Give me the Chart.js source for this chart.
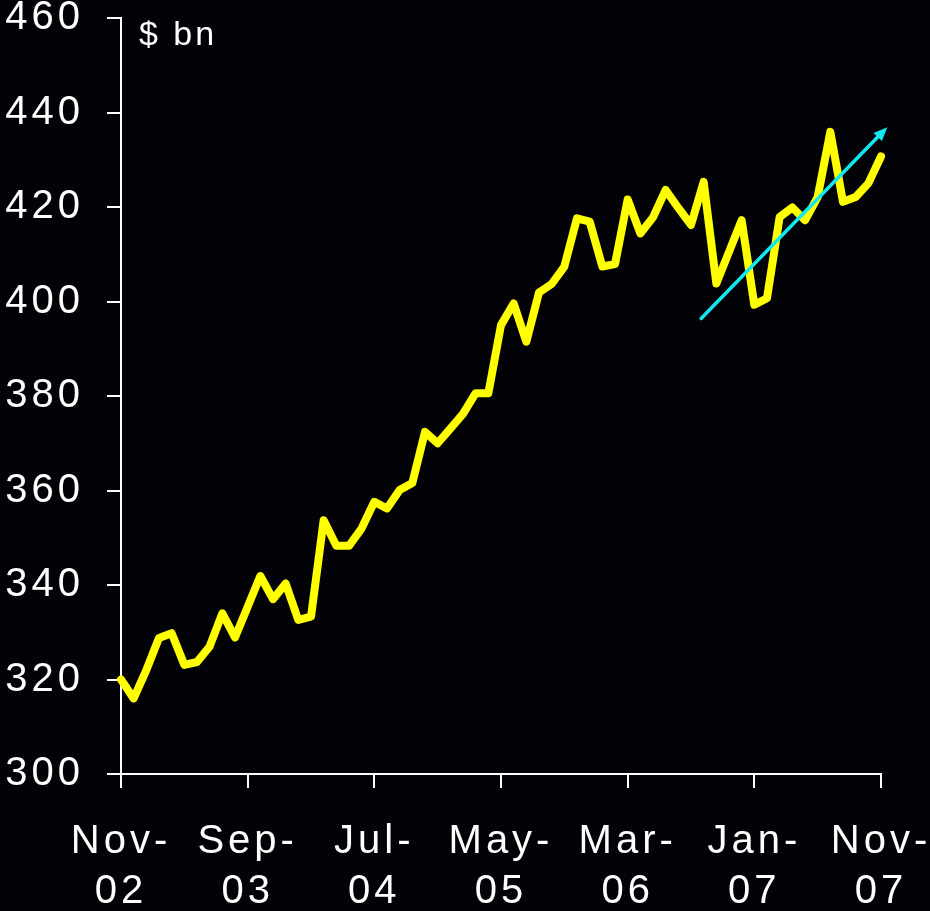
<!DOCTYPE html>
<html>
<head>
<meta charset="utf-8">
<script src="https://cdn.jsdelivr.net/npm/chart.js@4"></script>
<style>
  html, body { margin: 0; padding: 0; background: #020207; }
  #wrap { width: 930px; height: 911px; position: relative; }
</style>
</head>
<body>
<div id="wrap"><canvas id="reserveChart"></canvas></div>
<script>
// Monthly values, Nov-02 .. Nov-07 ($ bn)
const months = [
    'Nov-02', 'Dec-02', 'Jan-03', 'Feb-03', 'Mar-03', 'Apr-03', 'May-03', 'Jun-03', 'Jul-03', 'Aug-03', 'Sep-03', 'Oct-03',
    'Nov-03', 'Dec-03', 'Jan-04', 'Feb-04', 'Mar-04', 'Apr-04', 'May-04', 'Jun-04', 'Jul-04', 'Aug-04', 'Sep-04', 'Oct-04',
    'Nov-04', 'Dec-04', 'Jan-05', 'Feb-05', 'Mar-05', 'Apr-05', 'May-05', 'Jun-05', 'Jul-05', 'Aug-05', 'Sep-05', 'Oct-05',
    'Nov-05', 'Dec-05', 'Jan-06', 'Feb-06', 'Mar-06', 'Apr-06', 'May-06', 'Jun-06', 'Jul-06', 'Aug-06', 'Sep-06', 'Oct-06',
    'Nov-06', 'Dec-06', 'Jan-07', 'Feb-07', 'Mar-07', 'Apr-07', 'May-07', 'Jun-07', 'Jul-07', 'Aug-07', 'Sep-07', 'Oct-07',
    'Nov-07',
];
const values = [
    320, 316, 322, 328.8, 329.8, 323.1, 323.7, 327, 334, 328.9, 335.4, 341.9,
    337, 340.3, 332.6, 333.3, 353.7, 348.3, 348.3, 352, 357.6, 356.2, 360.1, 361.6,
    372.4, 370, 373.1, 376.2, 380.6, 380.6, 395, 399.6, 391.5, 401.9, 403.7, 407.4,
    417.6, 416.9, 407.4, 407.9, 421.6, 414.4, 417.8, 423.6, 419.8, 416.2, 425.3, 403.8,
    410.5, 417.2, 399.3, 400.7, 417.9, 419.9, 417.2, 422.1, 435.9, 421.1, 422.1, 425,
    430.7,
];
// x-axis tick labels every 10 months
const tickLabels = [['Nov-', '02'], ['Sep-', '03'], ['Jul-', '04'], ['May-', '05'], ['Mar-', '06'], ['Jan-', '07'], ['Nov-', '07']];
// trend arrow: [month index, value] start and end
const arrowFrom = [45.8, 396.4];
const arrowTo = [60.5, 436.9];
const unitLabel = '$ bn';

const bg = '#020207';

function setSpacing(chart) {
    chart.ctx.letterSpacing = '4px';
}

const extras = {
    id: 'extras',
    beforeUpdate: setSpacing,
    beforeLayout: setSpacing,
    beforeDraw(chart) {
        const c = chart.ctx;
        c.save();
        c.fillStyle = bg;
        c.fillRect(0, 0, chart.width, chart.height);
        c.restore();
        setSpacing(chart);
    },
    afterDatasetsDraw(chart) {
        const c = chart.ctx;
        const xs = chart.scales.x;
        const ys = chart.scales.y;
        const x1 = xs.getPixelForValue(arrowFrom[0]);
        const y1 = ys.getPixelForValue(arrowFrom[1]);
        const x2 = xs.getPixelForValue(arrowTo[0]);
        const y2 = ys.getPixelForValue(arrowTo[1]);
        const ang = Math.atan2(y2 - y1, x2 - x1);
        const head = 15;
        c.save();
        c.strokeStyle = '#10E8F0';
        c.fillStyle = '#10E8F0';
        c.lineWidth = 3.5;
        c.lineCap = 'round';
        c.beginPath();
        c.moveTo(x1, y1);
        c.lineTo(x2 - Math.cos(ang) * head * 0.8, y2 - Math.sin(ang) * head * 0.8);
        c.stroke();
        c.beginPath();
        c.moveTo(x2, y2);
        c.lineTo(x2 - head * Math.cos(ang - 0.4), y2 - head * Math.sin(ang - 0.4));
        c.lineTo(x2 - head * Math.cos(ang + 0.4), y2 - head * Math.sin(ang + 0.4));
        c.closePath();
        c.fill();

        // unit label
        c.letterSpacing = '3px';
        c.font = '34px "Liberation Sans", Arial, sans-serif';
        c.fillStyle = '#ffffff';
        c.textAlign = 'left';
        c.textBaseline = 'alphabetic';
        c.fillText(unitLabel, chart.chartArea.left + 18, chart.chartArea.top + 27);
        c.restore();
    },
};

const ctx = document.getElementById('reserveChart').getContext('2d');

const reserveChart = new Chart(ctx, {
    type: 'line',
    data: {
        labels: months,
        datasets: [
            {
                label: 'Reserves ($ bn)',
                data: values.map((v, i) => ({ x: i, y: v })),
                borderColor: '#FFFF00',
                borderWidth: 8,
                borderJoinStyle: 'round',
                borderCapStyle: 'round',
                pointRadius: 0,
                tension: 0,
                fill: false,
                clip: false,
            },
        ],
    },
    options: {
        responsive: true,
        maintainAspectRatio: false,
        animation: false,
        layout: { padding: 0 },
        plugins: {
            legend: { display: false },
            tooltip: { enabled: false },
        },
        scales: {
            x: {
                type: 'linear',
                min: 0,
                max: 60,
                border: { color: '#ffffff', width: 2 },
                grid: { display: true, drawOnChartArea: false, color: '#ffffff', lineWidth: 2, tickLength: 14 },
                ticks: {
                    stepSize: 10,
                    color: '#ffffff',
                    maxRotation: 0,
                    autoSkip: false,
                    padding: 29,
                    font: { family: '"Liberation Sans", Arial, sans-serif', size: 40, lineHeight: 1.25 },
                    callback: (v) => tickLabels[v / 10],
                },
                afterFit(scale) {
                    scale.height = 137;
                    scale.paddingRight = 49;
                },
            },
            y: {
                min: 300,
                max: 460,
                border: { color: '#ffffff', width: 2 },
                grid: { display: true, drawOnChartArea: false, color: '#ffffff', lineWidth: 2, tickLength: 14 },
                ticks: {
                    stepSize: 20,
                    color: '#ffffff',
                    padding: 23,
                    font: { family: '"Liberation Sans", Arial, sans-serif', size: 40, lineHeight: 0.9 },
                },
                afterFit(scale) {
                    scale.width = 121;
                    scale.paddingTop = 18;
                },
            },
        },
    },
    plugins: [extras],
});
</script>
</body>
</html>
